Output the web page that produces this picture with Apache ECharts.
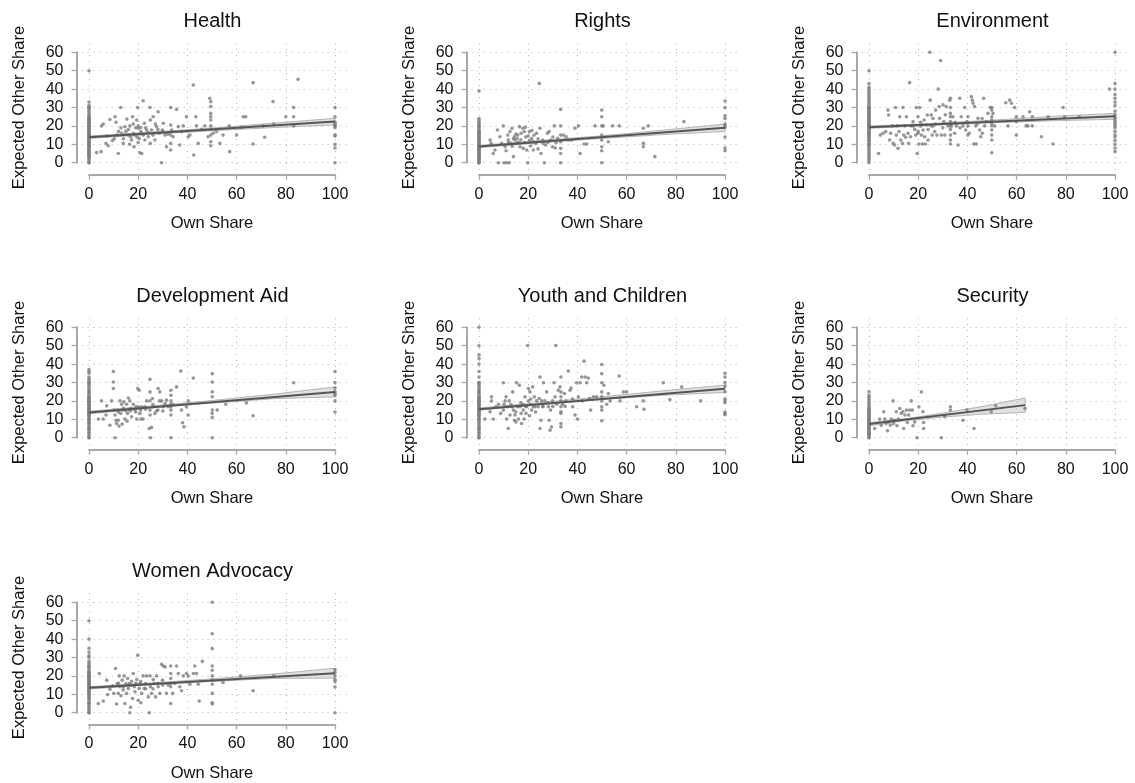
<!DOCTYPE html>
<html><head><meta charset="utf-8">
<script src="https://cdn.jsdelivr.net/npm/echarts@6/dist/echarts.min.js"></script>
<style>html,body{margin:0;padding:0;background:#fff}#c{width:1135px;height:783px}</style>
</head><body><div id="c"></div>
<script>
// ---------- text ----------
const panelTitles = ['Health','Rights','Environment','Development Aid','Youth and Children','Security','Women Advocacy'];
const xTicks = [0,20,40,60,80,100];
const yTicks = [0,10,20,30,40,50,60];
const xAxisTitle = 'Own Share';
const yAxisTitle = 'Expected Other Share';

// ---------- Health ----------
const healthZero = [0,0,1,2,3,3,4,4,5,5,6,6,7,7,8,8,9,9,10,10,10,11,11,12,12,12,13,13,14,14,15,15,15,16,16,17,17,18,18,19,19,20,20,20,21,21,22,22,23,23,24,24,25,25,26,27,28,29,30,30,31,33,50];
const healthHundred = [30,25,22,21,20,20,19,15,14.5,10,8,0];
const healthPts = [[3.1,5.5],[4.9,6],[5.1,20],[5.8,21],[7.2,14.5],[6.9,10.5],[7.8,9.2],[8.5,23.5],[10.6,25],[10.3,13],[11.2,15],[11.9,5],[12.9,30],[13.3,16],[13.9,10.5],[14.6,19.5],[15.4,23.7],[16,15],[16.6,20],[17.3,12.3],[17.7,25],[18.3,8.7],[18.7,15],[19.4,23.2],[19.8,30],[20,18.7],[20.4,13.2],[20.7,5.4],[21.1,16.9],[21.4,5],[22,33.7],[22.5,21.4],[22.7,12.3],[23.4,17.8],[24.1,14.1],[24.8,30],[24.9,23.2],[24.9,10.5],[25.4,17.8],[26.1,25],[26.8,12.3],[27.5,19.6],[28.1,27.7],[28.6,16],[29.5,0],[29.8,17.8],[30.2,21.4],[30.9,15],[31.5,8.7],[33.2,30],[33.2,20.5],[33.2,15],[33.2,10.5],[33.2,6.9],[33.6,17.8],[34.2,14.1],[35.6,29],[36.3,19.6],[36.9,9.6],[37.6,16.9],[38.3,20],[39.6,25],[40.3,14.1],[41,15],[42.4,42.2],[42.6,4.2],[43.4,25],[43.7,20],[44.4,10.5],[45.7,18.1],[47.1,20],[48.4,14.1],[49.1,35],[49.5,33.2],[49.5,30.5],[49.5,26.8],[49.5,25],[49.5,23.2],[49.5,20],[49.5,18.1],[49.5,15],[49.5,11.4],[49.5,9.2],[50.5,16],[51.8,16.9],[53.2,10.5],[54.5,15],[57,20],[57.2,6],[60,15],[62,19.2],[62.7,25],[63.7,25],[66.7,43.5],[66.7,10.2],[70.8,20],[71.4,13.8],[74.8,33.2],[75.1,21],[80,25],[83.2,30],[83.2,25],[83.2,20],[85,45.3],[9.5,12],[12,17],[14,13],[15,17],[16,18],[17,14],[18,16],[19,19],[20,20],[21,16],[22,15],[23,19],[13,19],[11,22],[16.5,10],[18,21],[20,11],[24,16.5],[26,15],[28,18],[30,17],[32,15.5],[27,21],[21,19],[19.5,14]];
const healthFit = [[0,13.85],[100,22.35]];
const healthCI = [[0,13.2,14.5],[25,15.4,16.6],[50,17.4,18.8],[75,19.1,21.5],[100,20.6,24.1]];

// ---------- Rights ----------
const rightsZero = [0,0,0,1,1,2,2,3,3,4,4,5,5,5,6,6,7,7,7,8,8,8,9,9,9,10,10,10,11,11,12,12,13,13,14,14,15,15,16,16,17,17,18,19,20,20,21,22,23,24,39];
const rightsHundred = [33.5,30,25.5,24,21,20,19,14,8,6.5];
const rightsPts = [[4.5,12.3],[4.9,10.5],[5.8,5],[6.5,6.9],[7.5,17.8],[7.9,0],[8.5,14.1],[9.2,10.5],[9.9,20],[10.2,0],[10.6,8.7],[11.2,0],[11.7,15],[11.9,12.3],[12.3,0],[12.6,16.9],[13,10.5],[13.4,18.7],[14,3.3],[14.4,14.1],[14.6,12.3],[15,15.6],[15.3,10.5],[15.7,15],[16.4,19.6],[16.7,8.7],[17.1,16],[17.8,18.7],[18,7.8],[18.4,16.9],[18.8,19.2],[19.4,6.9],[19.8,0],[20,14.5],[20.5,16.9],[21,9.1],[21.4,13.2],[22.1,6.9],[22.4,15],[23,10.5],[23.4,16],[24.5,43.1],[24.8,18.7],[25.2,5],[25.9,12.3],[26.6,0],[27.1,9.6],[27.8,16],[28.5,16.9],[29.1,12.3],[29.9,8.7],[30.6,20],[31.3,10.9],[32,13.2],[33.2,29],[33.2,20],[33.2,15],[33.2,11.4],[33.2,7.8],[33.2,5],[33.2,0],[34.3,15],[35.4,14.1],[36.3,12.3],[37.7,12.3],[39,18.7],[40.4,20],[41.1,5],[42.7,10.2],[43.8,10.2],[47.2,20],[49.9,28.6],[49.9,25],[49.9,20],[49.9,15],[49.9,12.3],[49.9,8.7],[49.9,6.5],[49.9,0],[50.5,20],[52.6,11.4],[54.3,20],[57,20],[66.8,18.7],[66.8,10.5],[66.8,8.7],[68.8,20],[71.5,3.3],[83.3,22.3],[12,11],[14,13],[15.5,13],[16,11],[17,12.5],[18.5,11],[19,14],[20.5,12],[22,11.5],[24,13],[26,10.5],[28,11],[30,14],[31,8],[21.5,17.5],[13.5,9],[11,6.5],[24,7.5]];
const rightsFit = [[0,8.8],[100,19]];
const rightsCI = [[0,8.2,9.4],[25,10.9,12.1],[50,13.2,14.6],[75,15.3,17.7],[100,17,21]];

// ---------- Environment ----------
const envZero = [0,1,2,3,4,5,6,7,8,9,10,10,11,12,12,13,14,14,15,15,16,16,17,17,18,18,19,19,20,20,20,21,21,22,22,23,23,24,24,25,25,25,26,26,27,27,28,28,29,29,30,30,30,31,32,33,34,35,36,37,38,39,40,41,43,50];
const envHundred = [60,43,40,37,35,33,31,28,26,25,24,23,22,21,20,19,17,15,14,12,10,8,6];
const envPts = [[3.9,5],[4.6,15],[5.7,16],[6.8,16.9],[7.7,28.6],[8,25.9],[8.4,12.3],[8.8,16],[9.5,20],[9.8,10.5],[10.4,9.6],[10.8,30],[11.1,15],[11.5,20],[11.8,7.8],[12.2,16.9],[12.5,25],[12.9,12.3],[13.6,10.5],[13.8,30],[14.1,15],[14.5,20],[14.9,13.8],[15.2,25],[15.9,16],[16.1,10.5],[16.5,43.5],[16.9,14.1],[17.2,20],[17.9,22.3],[18.6,18.1],[19,15],[19.2,30],[19.6,5],[19.9,25],[19.9,16],[20.3,10.2],[20.6,30],[21,20],[21.3,15],[21.7,10.2],[22,17.8],[22.4,23.2],[22.6,14.1],[22.9,10.2],[23.3,20.5],[23.7,25.9],[24,12.3],[24.7,60],[24.9,34],[25.3,25.9],[25.3,20],[25.7,15],[26,20],[26.7,16.9],[27.1,28.6],[27.6,15],[28.1,40],[28.5,30.5],[28.7,24.1],[29.1,55.5],[29.4,15],[30.1,31.4],[30.4,22.3],[30.8,15],[31.4,30.5],[32.1,20],[32.8,34],[33.1,35],[33.1,30],[33.1,26.8],[33.1,25],[33.1,22.3],[33.1,20],[33.1,18.1],[33.1,15],[33.1,12.3],[33.1,10.2],[33.5,20],[34.1,25],[34.8,16],[35.5,20],[36.2,9.6],[36.9,35],[37.5,25],[38.2,20],[38.9,30],[39.3,17.8],[39.8,22.3],[40.2,25],[40.2,20],[40.2,15],[40.7,16],[41.6,35.9],[42,34],[42.3,32.3],[42.6,10.2],[42.9,30.5],[43.4,20],[43.6,10.2],[44.3,24.1],[45,17.8],[45.4,14.1],[46.1,16],[46.6,35],[47,20],[47.7,22.3],[48.4,26.8],[49.3,30],[49.9,30],[49.9,28.6],[49.9,25],[49.9,23.2],[49.9,21.4],[49.9,20],[49.9,17.8],[49.9,15],[49.9,12.3],[49.9,5.4],[50.4,26.8],[51.1,20],[55.6,32.6],[56.5,20],[57.2,34],[57.9,32.3],[59.2,30],[59.9,15],[59.9,25],[59.9,22.3],[62.6,25],[63.9,20],[64.6,20],[65.3,27.7],[66.4,25],[66.4,20],[70.1,14.1],[72.8,25],[74.8,10.2],[78.9,30],[79.5,25],[85.4,25],[97.8,40],[18,20],[21,22],[24,18],[27,21],[30,19],[35,22],[37,19],[44,21],[46,24],[31,26],[26,24],[20,17]];
const envFit = [[0,19.3],[100,25.2]];
const envCI = [[0,18.7,19.9],[25,20.3,21.3],[50,21.7,23.1],[75,22.8,25.2],[100,23.6,26.8]];

// ---------- Development Aid ----------
const devZero = [0,0,1,2,3,4,5,5,6,7,8,8,9,10,10,11,12,12,13,13,14,14,15,15,15,16,16,17,17,18,18,19,19,20,20,20,21,21,22,22,23,24,25,25,26,27,28,29,30,30,31,32,33,35,36,37];
const devHundred = [36,30,27,25,24,23,20,14];
const devPts = [[3.8,10.1],[5.1,20],[5.8,10.1],[6.9,12.3],[7.2,17.3],[8.5,6.8],[9.2,20],[9.9,36],[9.9,30.3],[9.9,26.7],[10.1,15],[10.6,0],[10.6,12.3],[11,9.5],[11.2,7.7],[11.5,15],[11.9,9.5],[12.2,6.3],[12.6,20],[12.9,13.2],[13.3,18.2],[13.5,7.4],[13.9,15],[14.2,19.5],[14.6,10.1],[15,14.6],[15.3,18.2],[15.7,13.2],[16,21.6],[16.4,15],[16.6,20],[17,14.6],[17.3,11.4],[18,18.2],[18.7,15],[19.1,16.8],[19.4,10.1],[19.8,26.7],[20,16.8],[20.4,25.8],[20.7,13.2],[21.1,10.1],[21.4,16.8],[22,10.1],[22.7,16.8],[23.4,20],[24.5,5],[24.8,31.7],[24.8,24.9],[24.8,20],[24.8,15],[24.8,12.3],[25,0],[25.4,5.6],[25.8,21.3],[26.1,16.8],[26.8,13.2],[27.5,14.6],[28.1,26.7],[28.6,20],[28.8,24.9],[29.5,20],[30.2,16.8],[30.9,18.6],[31.5,20.4],[32.2,16.8],[33.3,25.8],[33.3,23.1],[33.3,18.2],[33.3,16.8],[33.3,15],[33.3,12.3],[33.3,0],[34,18.2],[35.6,27.6],[37.3,36.2],[37.6,15],[38,8.1],[38.6,5.9],[39.6,16.8],[40.3,20],[40.3,12.3],[42.4,32.4],[50.1,34.8],[50.1,30.3],[50.1,24.9],[50.1,22.2],[50.1,15],[50.1,13.2],[50.1,11],[50.1,0],[52.1,15],[55.6,18.2],[64,18.9],[66.7,11.9],[83.2,29.9],[12,14],[14,16],[17,16],[19,14],[21,15],[23,15.5],[26,18],[28,15],[30,14.5],[33.3,20],[15.5,9]];
const devFit = [[0,13.7],[100,24.9]];
const devCI = [[0,13,14.4],[25,16.2,17.2],[50,18.8,20.2],[75,21.2,23.6],[100,22.2,27.6]];

// ---------- Youth and Children ----------
const youthZero = [0,0,1,2,3,4,5,5,6,7,8,9,10,10,11,12,12,13,13,14,14,15,15,15,16,16,17,17,18,18,19,19,20,20,20,21,21,22,22,23,24,25,25,26,27,28,29,30,30,33,36,40,43,45,50,60];
const youthHundred = [35,33,30,28,25,21,20,19,14,13,12.5];
const youthPts = [[2.4,10.1],[4.5,14.1],[5.1,22.2],[5.1,20],[5.8,10.1],[6.9,16.8],[7.9,18.2],[8.8,13.2],[9.9,29.9],[9.9,15],[10.2,18.2],[10.6,20],[11,22.2],[11.2,10.1],[11.7,16.8],[11.9,5],[12.3,20],[12.6,12.3],[13.3,16.8],[13.7,24.9],[14,15],[14.4,9.5],[14.6,12.3],[15,8.6],[15.3,29.9],[15.7,16.8],[16,10.1],[16.4,28.5],[16.7,16.8],[17.1,13.2],[17.3,7.7],[17.8,18.2],[18,15],[18.3,10.1],[18.7,22.2],[19.1,13.2],[19.4,16.8],[19.8,50.1],[20.1,26.7],[20.1,20],[20.5,11.9],[20.7,24.9],[21,18.2],[21.4,15],[21.8,27.6],[22.1,16.8],[22.5,22.2],[22.8,16.8],[23.4,20],[24.1,16.8],[24.5,21.3],[24.8,33],[24.8,5],[25.2,9.5],[25.5,20],[25.9,16.8],[26.2,29.9],[26.8,20],[27.5,24.9],[28.2,16.8],[28.5,9.5],[28.9,4.1],[29.1,15],[29.5,5.9],[29.9,20],[30.5,29.9],[30.9,22.2],[31.2,50.1],[31.6,18.2],[32.2,25.8],[32.9,27.6],[33.3,33],[33.3,24.9],[33.3,22.2],[33.3,20],[33.3,16.8],[33.3,14.1],[33.3,13.2],[33.3,7.7],[33.3,5.9],[34,18.2],[34.7,24],[35.4,20],[36.3,36.2],[37,25.8],[37.4,27],[38.1,16.8],[39,12.3],[39.7,29.9],[40,10.1],[40.4,22.2],[41.1,29.9],[41.7,33],[42.7,41.6],[43.1,33],[43.8,29.9],[44.4,32.4],[44.9,21.3],[45.4,15],[46.5,22.2],[47.8,22.2],[49.9,39.8],[49.9,34.8],[49.9,29.9],[49.9,24.9],[49.9,22.2],[49.9,20],[49.9,16.8],[49.9,15],[49.9,9.2],[50.8,28.5],[51.9,18.2],[52.6,24],[53.3,20],[57,33.5],[57.3,20],[58.7,24.9],[60,24.9],[64.1,16.8],[66.8,20],[67.1,15.5],[74.9,29.9],[77.6,20.7],[82.4,27.6],[90.1,20],[13,18],[15,14],[17,19],[19,17],[21,21],[23,14],[26,17],[28,19],[30,17],[35,17],[38,21],[42,20]];
const youthFit = [[0,15.5],[100,26.6]];
const youthCI = [[0,14.9,16.1],[25,18.1,19.1],[50,20.8,22.2],[75,23.1,25.5],[100,24.6,28.6]];

// ---------- Security ----------
const secZero = [0,0,1,1,2,2,3,3,4,4,5,5,6,6,7,7,8,8,9,9,10,10,11,11,12,12,13,13,14,14,15,15,16,16,17,18,19,20,21,22,23,25];
const secHundred = [];
const secPts = [[2.3,5],[4.3,10.1],[5,6.8],[6,14.1],[6.4,10.1],[7,7.7],[7.5,3.8],[8.1,8.6],[8.7,6.8],[9.1,10.1],[9.8,20],[10,7.7],[10.4,9.5],[11.1,14.1],[11.4,6.5],[11.9,10.1],[12.5,15.9],[13.1,13.2],[13.8,14.1],[14.1,5],[14.6,12.3],[15.2,15],[15.6,8.3],[16.1,12.3],[16.5,15],[17.2,20],[17.6,15],[17.9,6.5],[18.6,8.6],[19.5,0],[20.3,16.8],[21.3,24.9],[21.9,14.1],[22.2,8.3],[22.2,5],[29.4,0],[30.8,11.4],[33.1,16.8],[33.1,15],[38.2,9.5],[39.8,15],[42.7,5],[49.7,14.1],[51.5,17.3],[63.4,15.9]];
const secFit = [[0,7.4],[63.5,17.7]];
const secCI = [[0,6.5,8.3],[15,9.3,10.3],[30,11.2,13.4],[45,12.7,16.7],[63.5,13.8,21.6]];

// ---------- Women Advocacy ----------
const womenZero = [0,0,1,2,3,4,5,5,6,7,8,8,9,10,10,11,11,12,12,13,13,14,14,15,15,15,16,16,17,17,18,18,19,19,20,20,20,21,21,22,22,23,24,25,25,26,27,28,30,31,33,35,40,50];
const womenHundred = [23.5,22,20,18,17,14,0];
const womenPts = [[3.8,5],[4.2,21.3],[5.8,6.3],[7.2,17.7],[7.6,9.9],[8.5,12.8],[9.6,14.6],[10.1,10.5],[10.8,24],[11.2,4.7],[11.5,15.9],[11.9,10.5],[12.3,20],[12.6,14.1],[13,9.2],[13.5,17.7],[13.9,12.3],[14.3,20],[14.6,5],[15,15.9],[15.3,10.5],[15.7,18.6],[16,13.2],[16.4,15.9],[16.6,0],[16.9,2.9],[17.3,17.1],[17.7,7.7],[18,21.3],[18.4,14.1],[18.7,11.4],[19.4,18],[19.8,31.2],[20,6.8],[20.4,13.2],[20.7,15.9],[21.1,5.4],[21.4,10.5],[22,20],[22.5,13.2],[23,15.9],[23.4,20],[24.1,8.6],[24.5,0],[24.8,20],[25,14.1],[25.4,10.5],[26.1,18],[26.5,15.9],[27.1,8.6],[27.5,20],[28.1,14.1],[28.8,10.5],[29.5,26.3],[29.9,17.7],[30.2,25.4],[30.9,24.9],[31.5,10.5],[32.2,15],[33.2,25.4],[33.2,21.3],[33.2,18.6],[33.2,15.9],[33.2,14.1],[33.2,5],[34,10.5],[34.9,15.9],[35.6,25.4],[36.3,21.3],[36.9,14.1],[37.6,11.9],[38.3,20],[39.6,21.3],[40.3,20],[41,15.5],[42.4,21.3],[43,25.4],[43.7,21.3],[44.4,15.5],[44.8,6.3],[46.1,27.9],[50.1,60],[50.1,42.9],[50.1,34.8],[50.1,25.4],[50.1,23.1],[50.1,20],[50.1,17.7],[50.1,15.5],[50.1,10.5],[50.1,5.4],[50.1,4.7],[54.5,16.4],[61.6,20],[66.7,11.9],[75.1,20],[12,16],[14,14],[17,15],[19,16],[21,17],[23,13],[26,13],[28,16],[30,15]];
const womenFit = [[0,13.5],[100,21.5]];
const womenCI = [[0,12.9,14.1],[25,15.1,16.1],[50,17,18.4],[75,18.6,21],[100,18.8,24.2]];

// ---------- assemble ----------
const panels = [
  {zero: healthZero, hundred: healthHundred, pts: healthPts, fit: healthFit, ci: healthCI},
  {zero: rightsZero, hundred: rightsHundred, pts: rightsPts, fit: rightsFit, ci: rightsCI},
  {zero: envZero, hundred: envHundred, pts: envPts, fit: envFit, ci: envCI},
  {zero: devZero, hundred: devHundred, pts: devPts, fit: devFit, ci: devCI},
  {zero: youthZero, hundred: youthHundred, pts: youthPts, fit: youthFit, ci: youthCI},
  {zero: secZero, hundred: secHundred, pts: secPts, fit: secFit, ci: secCI},
  {zero: womenZero, hundred: womenHundred, pts: womenPts, fit: womenFit, ci: womenCI}
];

// layout (pixels)
const colX0 = [89, 479, 869];
const rowY0 = [162.7, 437.7, 712.7];
const pxX = 2.46, pxY = 1.84;
const XMIN = -3, XMAX = 105, YMIN = -4, YMAX = 65;
const FONT = '"Liberation Sans", Arial, Helvetica, sans-serif';
const TXT = '#111';

const grid = [], xAxis = [], yAxis = [], series = [], title = [];
panels.forEach((p, i) => {
  const x0 = colX0[i % 3], y0 = rowY0[Math.floor(i / 3)];
  const g = grid.length;
  // main plotting grid
  grid.push({left: x0 + XMIN * pxX, top: y0 - YMAX * pxY, width: (XMAX - XMIN) * pxX, height: (YMAX - YMIN) * pxY});
  xAxis.push({gridIndex: g, type: 'value', min: XMIN, max: XMAX, show: false});
  yAxis.push({gridIndex: g, type: 'value', min: YMIN, max: YMAX, show: false});
  // x axis grid
  grid.push({left: x0, top: y0 + 11, width: 100 * pxX, height: 1});
  xAxis.push({gridIndex: g + 1, type: 'value', min: 0, max: 100, interval: 20, position: 'bottom',
    axisLine: {show: true, lineStyle: {color: '#a8a8a8', width: 2}},
    axisTick: {show: true, length: 5, lineStyle: {color: '#a8a8a8', width: 1.3}},
    axisLabel: {margin: 11.5, fontSize: 16, color: TXT, fontFamily: FONT},
    splitLine: {show: false},
    name: xAxisTitle, nameLocation: 'middle', nameGap: 40.5,
    nameTextStyle: {fontSize: 16.5, color: TXT, fontFamily: FONT}});
  yAxis.push({gridIndex: g + 1, type: 'value', min: 0, max: 1, show: false});
  // y axis grid
  grid.push({left: x0 - 12.5, top: y0 - 60 * pxY, width: 1, height: 60 * pxY});
  xAxis.push({gridIndex: g + 2, type: 'value', min: 0, max: 1, show: false});
  yAxis.push({gridIndex: g + 2, type: 'value', min: 0, max: 60, interval: 10, position: 'left',
    axisLine: {show: true, lineStyle: {color: '#a8a8a8', width: 2}},
    axisTick: {show: true, length: 5, lineStyle: {color: '#a8a8a8', width: 1.3}},
    axisLabel: {margin: 13, fontSize: 16, color: TXT, fontFamily: FONT},
    splitLine: {show: false},
    name: yAxisTitle, nameLocation: 'middle', nameGap: 49,
    nameTextStyle: {fontSize: 16.5, color: TXT, fontFamily: FONT}});

  title.push({text: panelTitles[i], left: x0 + 123.5, top: y0 - 141 - 11, textAlign: 'center', padding: 0,
    textStyle: {fontSize: 20, fontWeight: 'normal', color: TXT, fontFamily: FONT, lineHeight: 22}});

  const ci = p.ci;
  // confidence band + grid lines
  series.push({type: 'custom', xAxisIndex: g, yAxisIndex: g, z: 2, silent: true,
    data: ci,
    renderItem: (params, api) => {
      if (params.dataIndex !== 0) return null;
      const up = ci.map(r => api.coord([r[0], r[2]]));
      const lo = ci.map(r => api.coord([r[0], r[1]])).reverse();
      return {type: 'polygon', shape: {points: up.concat(lo)},
        style: {fill: 'rgba(200,200,200,0.55)', stroke: '#b4b4b4', lineWidth: 1}};
    },
    markLine: {silent: true, symbol: 'none', z: 1, animation: false, label: {show: false},
      lineStyle: {type: [1, 5], color: '#b0b0b0', width: 1},
      data: xTicks.map(v => ({xAxis: v})).concat(yTicks.map(v => ({yAxis: v})))}
  });
  // scatter
  const pts = p.zero.map(y => [0, y]).concat(p.pts, p.hundred.map(y => [100, y]));
  series.push({type: 'scatter', xAxisIndex: g, yAxisIndex: g, z: 3, silent: true,
    data: pts, symbol: 'circle', symbolSize: 3.6,
    itemStyle: {color: '#7d7d7d'}});
  // fitted line
  series.push({type: 'line', xAxisIndex: g, yAxisIndex: g, z: 4, silent: true,
    data: p.fit, showSymbol: false, symbol: 'none',
    lineStyle: {color: '#555555', width: 2}});
});

const chart = echarts.init(document.getElementById('c'), null, {renderer: 'canvas'});
chart.setOption({animation: false, backgroundColor: '#fff', title, grid, xAxis, yAxis, series});
</script>
</body></html>
